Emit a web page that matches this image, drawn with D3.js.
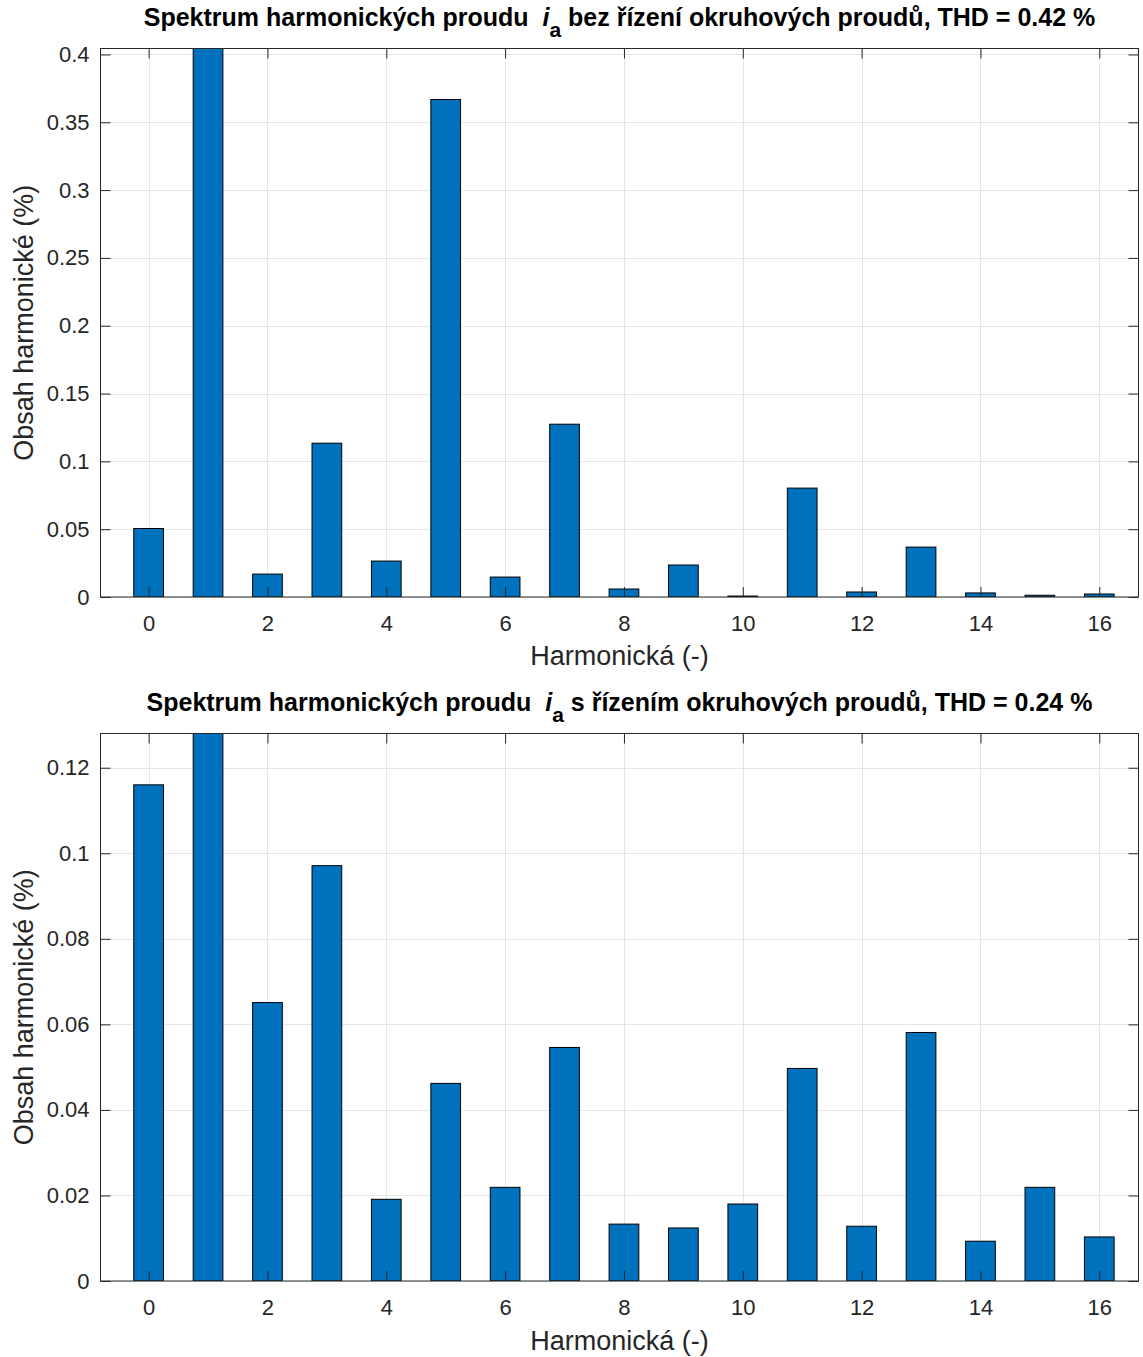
<!DOCTYPE html>
<html>
<head>
<meta charset="utf-8">
<script src="https://cdn.jsdelivr.net/npm/d3@7"></script>
<style>
  body { margin: 0; background: #fff; }
  svg { font-family: "Liberation Sans", Arial, sans-serif; }
  .grid line { stroke: #e6e6e6; stroke-width: 1; }
  .tick text { fill: #262626; font-size: 22px; }
</style>
</head>
<body>
<svg width="1143" height="1357"></svg>
<script>
// harmonic orders
let harmonics = d3.range(0, 17);

// top: without circulating current control (%)
let valuesTop = [0.0505, 0.4044, 0.0169, 0.1134, 0.0265, 0.3668, 0.0147, 0.1274, 0.0059,
                 0.0236, 0.0007, 0.0803, 0.0037, 0.0368, 0.0030, 0.0013, 0.0022];

// bottom: with circulating current control (%)
let valuesBottom = [0.1160, 0.1280, 0.0651, 0.0971, 0.0191, 0.0462, 0.0219, 0.0546, 0.0133,
                    0.0124, 0.0180, 0.0497, 0.0128, 0.0581, 0.0093, 0.0219, 0.0103];

let ticksTop = [0, 0.05, 0.1, 0.15, 0.2, 0.25, 0.3, 0.35, 0.4];
let ticksBottom = [0, 0.02, 0.04, 0.06, 0.08, 0.1, 0.12];
let xTicks = [0, 2, 4, 6, 8, 10, 12, 14, 16];

let svg = d3.select("svg");

drawPanel({
    top: 48.5, bottom: 597, values: valuesTop, yMax: 0.4044, yTicks: ticksTop,
    titleY: 26, titleBefore: "Spektrum harmonických proudu  ", titleAfter: " bez řízení okruhových proudů, THD = 0.42 %",
    xlabelY: 665
});
drawPanel({
    top: 733.5, bottom: 1281, values: valuesBottom, yMax: 0.128, yTicks: ticksBottom,
    titleY: 711, titleBefore: "Spektrum harmonických proudu  ", titleAfter: " s řízením okruhových proudů, THD = 0.24 %",
    xlabelY: 1350
});

function drawPanel(p) {
    let left = 100.5, right = 1138.5;

    let x = d3.scaleLinear().domain([-0.81, 16.66]).range([left, right]);
    let y = d3.scaleLinear().domain([0, p.yMax]).range([p.bottom, p.top]);

    let g = svg.append("g");

    // grid
    let grid = g.append("g").attr("class", "grid");
    grid.selectAll(".gx").data(xTicks).enter().append("line")
        .attr("x1", d => Math.round(x(d)) + 0.5).attr("x2", d => Math.round(x(d)) + 0.5)
        .attr("y1", p.top).attr("y2", p.bottom);
    grid.selectAll(".gy").data(p.yTicks).enter().append("line")
        .attr("y1", d => Math.round(y(d)) + 0.5).attr("y2", d => Math.round(y(d)) + 0.5)
        .attr("x1", left).attr("x2", right);

    // bars, clipped to plot area
    let clipId = "clip" + Math.round(p.top);
    g.append("clipPath").attr("id", clipId)
        .append("rect").attr("x", left).attr("y", p.top).attr("width", right - left).attr("height", p.bottom - p.top);

    let bw = x(0.25) - x(0);
    g.append("g").attr("clip-path", "url(#" + clipId + ")")
        .selectAll("rect").data(harmonics).enter().append("rect")
        .attr("x", d => x(d) - bw)
        .attr("width", bw * 2)
        .attr("y", (d, i) => y(p.values[i]))
        .attr("height", (d, i) => p.bottom - y(p.values[i]))
        .attr("fill", "#0072bd")
        .attr("stroke", "#000")
        .attr("stroke-width", 1);

    // axes, ticks inward like matlab
    let tl = 10;
    let xAxis = d3.axisBottom(x).tickValues(xTicks).tickSize(-tl).tickFormat(d3.format("d"));
    let yAxis = d3.axisLeft(y).tickValues(p.yTicks).tickSize(-tl).tickFormat(d => d === 0 ? "0" : d3.format("")(+d.toFixed(2)));

    let gx = g.append("g").attr("transform", "translate(0," + p.bottom + ")").call(xAxis);
    let gy = g.append("g").attr("transform", "translate(" + left + ",0)").call(yAxis);
    let gxt = g.append("g").attr("transform", "translate(0," + p.top + ")").call(d3.axisTop(x).tickValues(xTicks).tickSize(-tl).tickFormat(""));
    let gyr = g.append("g").attr("transform", "translate(" + right + ",0)").call(d3.axisRight(y).tickValues(p.yTicks).tickSize(-tl).tickFormat(""));

    [gx, gy, gxt, gyr].forEach(a => {
        a.select(".domain").remove();
        a.selectAll(".tick line").attr("stroke", "#262626").attr("stroke-width", 1);
    });
    gx.selectAll(".tick text").attr("dy", null).attr("y", 34);
    gy.selectAll(".tick text").attr("x", -11);

    // box
    g.append("rect").attr("x", left).attr("y", p.top).attr("width", right - left).attr("height", p.bottom - p.top)
        .attr("fill", "none").attr("stroke", "#262626").attr("stroke-width", 1);

    let cx = (left + right) / 2;

    // title
    let t = g.append("text").attr("x", cx).attr("y", p.titleY).attr("text-anchor", "middle")
        .attr("xml:space", "preserve").style("white-space", "pre")
        .attr("font-size", 25).attr("font-weight", "bold").attr("fill", "#000");
    t.append("tspan").text(p.titleBefore);
    t.append("tspan").attr("font-style", "italic").text("i");
    t.append("tspan").attr("dy", 11).attr("font-size", 21).text("a");
    t.append("tspan").attr("dy", -11).text(p.titleAfter);

    // x label
    g.append("text").attr("x", cx).attr("y", p.xlabelY).attr("text-anchor", "middle")
        .attr("font-size", 27).attr("fill", "#262626").text("Harmonická (-)");

    // y label
    g.append("text").attr("transform", "translate(33," + (p.top + p.bottom) / 2 + ") rotate(-90)")
        .attr("text-anchor", "middle").attr("font-size", 27).attr("fill", "#262626")
        .text("Obsah harmonické (%)");
}
</script>
</body>
</html>
